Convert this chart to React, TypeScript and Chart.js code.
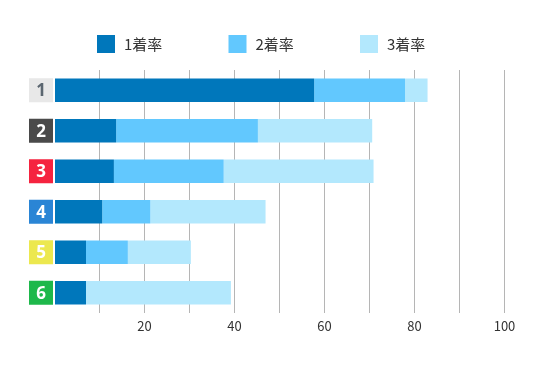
import { useEffect, useRef } from 'react';
import { Chart, registerables } from 'chart.js';

Chart.register(...registerables);

const categories = ['1', '2', '3', '4', '5', '6'];
const firstRate = [57.7, 13.7, 13.2, 10.6, 7.0, 7.0];
const secondRate = [20.2, 31.5, 24.4, 10.7, 9.3, 0];
const thirdRate = [5.0, 25.4, 33.3, 25.6, 14.0, 32.2];
const seriesNames = ['1着率', '2着率', '3着率'];
const seriesColors = ['#0077bb', '#62c8fe', '#b3e8fd'];
const laneColors = ['#e8e8e8', '#4a4a4a', '#f5233f', '#2a85d5', '#ece84f', '#1eb84b'];
const laneTextColors = ['#5b6670', '#ffffff', '#ffffff', '#ffffff', '#ffffff', '#ffffff'];
const xTickLabels = [20, 40, 60, 80, 100];

const FONT = "'Noto Sans CJK JP', 'Noto Sans', sans-serif";

const laneLabelPlugin = {
  id: 'laneLabels',
  afterDraw(chart: any) {
    const { ctx, chartArea, scales } = chart;
    const y = scales.y;
    const size = 24;
    ctx.save();
    categories.forEach((c, i) => {
      const cy = y.getPixelForValue(i);
      const left = chartArea.left - 25.5;
      ctx.fillStyle = laneColors[i];
      ctx.fillRect(left, cy - size / 2, size, size);
      ctx.fillStyle = laneTextColors[i];
      ctx.font = `bold 17px 'Noto Sans', sans-serif`;
      ctx.textAlign = 'center';
      ctx.textBaseline = 'middle';
      ctx.fillText(c, left + size / 2, cy + 1);
    });
    ctx.restore();
  },
};

const legendPlugin = {
  id: 'customLegend',
  afterDraw(chart: any) {
    const { ctx, chartArea } = chart;
    const pitch = 131.5;
    const startX = chartArea.left + 42.5;
    const cy = 36;
    const box = 18;
    ctx.save();
    chart.data.datasets.forEach((ds: any, i: number) => {
      const x = startX + i * pitch;
      ctx.fillStyle = ds.backgroundColor;
      ctx.fillRect(x, cy - box / 2, box, box);
      ctx.fillStyle = '#333333';
      ctx.font = `15px ${FONT}`;
      ctx.textAlign = 'left';
      ctx.textBaseline = 'middle';
      ctx.fillText(ds.label, x + box + 9, cy);
    });
    ctx.restore();
  },
};

export default function App() {
  const ref = useRef<HTMLCanvasElement>(null);

  useEffect(() => {
    if (!ref.current) return;
    const values = [firstRate, secondRate, thirdRate];
    const chart = new Chart(ref.current, {
      type: 'bar',
      data: {
        labels: categories,
        datasets: values.map((v, i) => ({
          label: seriesNames[i],
          data: v,
          backgroundColor: seriesColors[i],
          borderWidth: 0,
          barPercentage: 0.58,
          categoryPercentage: 1,
        })),
      },
      options: {
        indexAxis: 'y',
        animation: false,
        responsive: true,
        maintainAspectRatio: false,
        layout: { padding: { left: 46.5, right: 27.5, top: 62, bottom: 18.4 } },
        plugins: {
          legend: { display: false },
          tooltip: { enabled: false },
        },
        scales: {
          x: {
            stacked: true,
            min: 0,
            max: 100,
            border: { display: false },
            grid: {
              drawTicks: false,
              lineWidth: 1,
              color: (c: any) => (c.tick && c.tick.value === 0 ? 'rgba(0,0,0,0)' : '#b5b5b5'),
            },
            ticks: {
              stepSize: 10,
              padding: 5,
              color: '#333333',
              font: { size: 13, family: FONT },
              callback: (v: any) => (xTickLabels.includes(Number(v)) ? String(v) : ''),
            },
          },
          y: {
            stacked: true,
            display: false,
          },
        },
      },
      plugins: [laneLabelPlugin, legendPlugin],
    });
    return () => chart.destroy();
  }, []);

  return (
    <div style={{ width: 524, height: 349, position: 'relative' }}>
      <canvas ref={ref} />
    </div>
  );
}
